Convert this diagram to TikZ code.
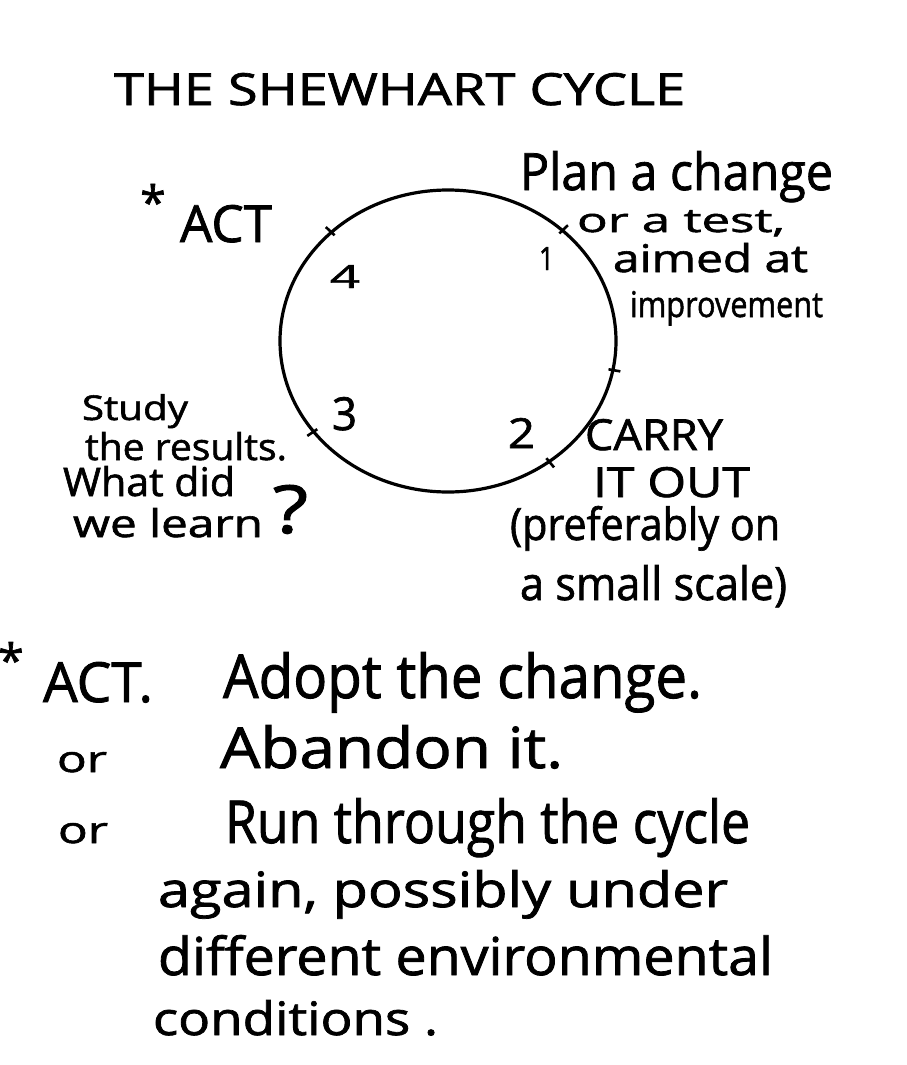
\documentclass[tikz,border=0pt]{standalone}
\usepackage{fontspec}
\setmainfont{Open Sans}[FakeBold=1.5]
\usepackage{graphicx}
\usetikzlibrary{shapes.geometric,calc}
\newcommand{\fitbox}[3]{\resizebox{#1pt}{#2pt}{#3}}
\begin{document}
\begin{tikzpicture}[x=1pt,y=-1pt,
  txt/.style={inner sep=0pt, outer sep=0pt, anchor=base west},
  star/.style={inner sep=0pt, outer sep=0pt, anchor=north, font=\fontsize{46}{46}\selectfont},
  cycle/.style={ellipse, draw, line width=3.2pt, minimum width=336pt, minimum height=302pt, inner sep=0pt},
  tickmark/.style={line width=2.6pt}]
\useasboundingbox (0,0) rectangle (906,1065);
\fill[white] (0,0) rectangle (906,1065);

% title
\node[txt] (title) at (114,105) {\fitbox{571}{32}{THE SHEWHART CYCLE}};

% the cycle
\node[cycle] (cyc) at (448,341) {};
\foreach \a/\n in {137/t4, 44/t1, 350/tr, 310/t2, 214/t3}{
  \coordinate (\n) at (cyc.\a);
  \draw[tickmark] ($(\n)!6pt!(cyc.center)$) -- ($(\n)!-6pt!(cyc.center)$);
}

% step numbers
\node[txt] (n4) at (330,288) {\fitbox{30}{23}{4}};
\node[txt] (n1) at (539,270) {\fitbox{15}{23}{1}};
\node[txt] (n3) at (332,430) {\fitbox{25}{33}{3}};
\node[txt] (n2) at (508,448) {\fitbox{27}{30}{2}};

% ACT label
\node[star] (star1) at (153,184) {*};
\node[txt] (act) at (180,242) {\fitbox{92}{37}{ACT}};

% Plan
\node[txt] (p1) at (520,190) {\fitbox{313}{39}{Plan a change}};
\node[txt] (p2) at (577,232) {\fitbox{208}{22}{or a test,}};
\node[txt] (p3) at (613,272) {\fitbox{195}{29}{aimed at}};
\node[txt] (p4) at (630,317) {\fitbox{193}{26}{improvement}};

% Study
\node[txt] (s1) at (82,420) {\fitbox{106}{26}{Study}};
\node[txt] (s2) at (85,460) {\fitbox{202}{28}{the results.}};
\node[txt] (s3) at (63,496) {\fitbox{172}{30}{What did}};
\node[txt] (s4) at (73,537) {\fitbox{190}{29}{we learn}};
\node[txt] (s5) at (273,533) {\fitbox{35}{48}{?}};

% Carry it out
\node[txt] (c1) at (585,450) {\fitbox{138}{31}{CARRY}};
\node[txt] (c2) at (593,497) {\fitbox{157}{30}{IT OUT}};
\node[txt] (c3) at (510,540) {\fitbox{270}{34}{(preferably on}};
\node[txt] (c4) at (520,600) {\fitbox{267}{35}{a small scale)}};

% footnote
\node[star] (star2) at (11,642) {*};
\node[txt] (b1) at (43,702) {\fitbox{110}{40}{ACT.}};
\node[txt] (b2) at (223,698) {\fitbox{479}{46}{Adopt the change.}};
\node[txt] (b3) at (57,772) {\fitbox{50}{20}{or}};
\node[txt] (b4) at (220,768) {\fitbox{343}{43}{Abandon it.}};
\node[txt] (b5) at (58,843) {\fitbox{50}{20}{or}};
\node[txt] (b6) at (225,843) {\fitbox{525}{45}{Run through the cycle}};
\node[txt] (b7) at (158,907) {\fitbox{570}{37}{again, possibly under}};
\node[txt] (b8) at (158,975) {\fitbox{615}{40}{different environmental}};
\node[txt] (b9) at (153,1035) {\fitbox{285}{35}{conditions .}};
\end{tikzpicture}
\end{document}
